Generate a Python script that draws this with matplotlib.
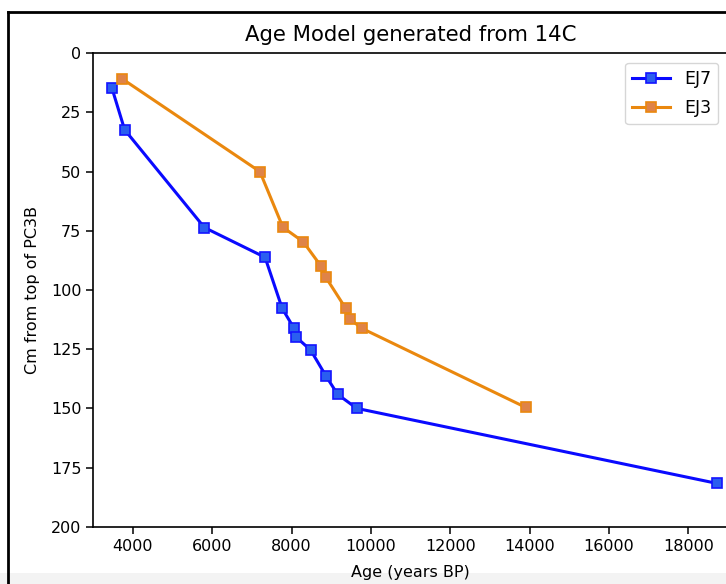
import matplotlib
matplotlib.use("Agg")
import matplotlib.pyplot as plt
from matplotlib.lines import Line2D
from matplotlib.patches import Rectangle

# Data
ej7_age = [3470, 3790, 5800, 7330, 7760, 8060, 8100, 8480, 8860, 9160, 9640, 18720]
ej7_depth = [14.7, 32.3, 73.6, 86.2, 107.7, 116.2, 119.7, 125.4, 136.2, 144.1, 150.0, 181.7]
ej3_age = [3730, 7200, 7780, 8290, 8740, 8860, 9360, 9470, 9770, 13900]
ej3_depth = [10.8, 50.0, 73.5, 79.6, 89.9, 94.6, 107.7, 112.3, 116.2, 149.6]
x_ticks = [4000, 6000, 8000, 10000, 12000, 14000, 16000, 18000]
y_ticks = [0, 25, 50, 75, 100, 125, 150, 175, 200]

W, H = 726, 584
fig = plt.figure(figsize=(W / 100, H / 100), dpi=100)
fig.patch.set_facecolor("white")

left, top, bottom, right = 93.3, 53.3, 526.7, 728.0
ax = fig.add_axes([left / W, 1 - bottom / H, (right - left) / W, (bottom - top) / H])

ax.plot(ej7_age, ej7_depth, color="#0a0aff", lw=2.2, marker="s", ms=7.8,
        mfc="#2a5ef0", mec="#1414ff", mew=1.2, label="EJ7")
ax.plot(ej3_age, ej3_depth, color="#ea880e", lw=2.2, marker="s", ms=7.8,
        mfc="#df8347", mec="#ea880e", mew=1.2, label="EJ3")

ax.set_xlim(3000, 19000)
ax.set_ylim(200, 0)
ax.set_xticks(x_ticks)
ax.set_yticks(y_ticks)
ax.tick_params(labelsize=11.5, length=5, width=1.1)
for s in ax.spines.values():
    s.set_linewidth(1.2)

ax.set_title("Age Model generated from 14C", fontsize=15.3, pad=9)
ax.set_xlabel("Age (years BP)", fontsize=11.5, labelpad=8)
ax.set_ylabel("Cm from top of PC3B", fontsize=11.5, labelpad=8)

leg = ax.legend(loc="upper right", fontsize=12.5, handlelength=2.2,
                labelspacing=0.65, borderaxespad=0.55, framealpha=0.8)

# screenshot decorations: light strip at bottom and dark frame lines
fig.add_artist(Rectangle((0, 0), 1, (H - 573) / H, transform=fig.transFigure,
                         facecolor="#f3f3f3", edgecolor="none", zorder=-1))
fig.add_artist(Line2D([8 / W, 8 / W], [0, 1 - 12 / H], transform=fig.transFigure,
                      color="black", lw=2))
fig.add_artist(Line2D([8 / W, 1], [1 - 12 / H, 1 - 12 / H], transform=fig.transFigure,
                      color="black", lw=2))

fig.savefig("out.png", dpi=100)
